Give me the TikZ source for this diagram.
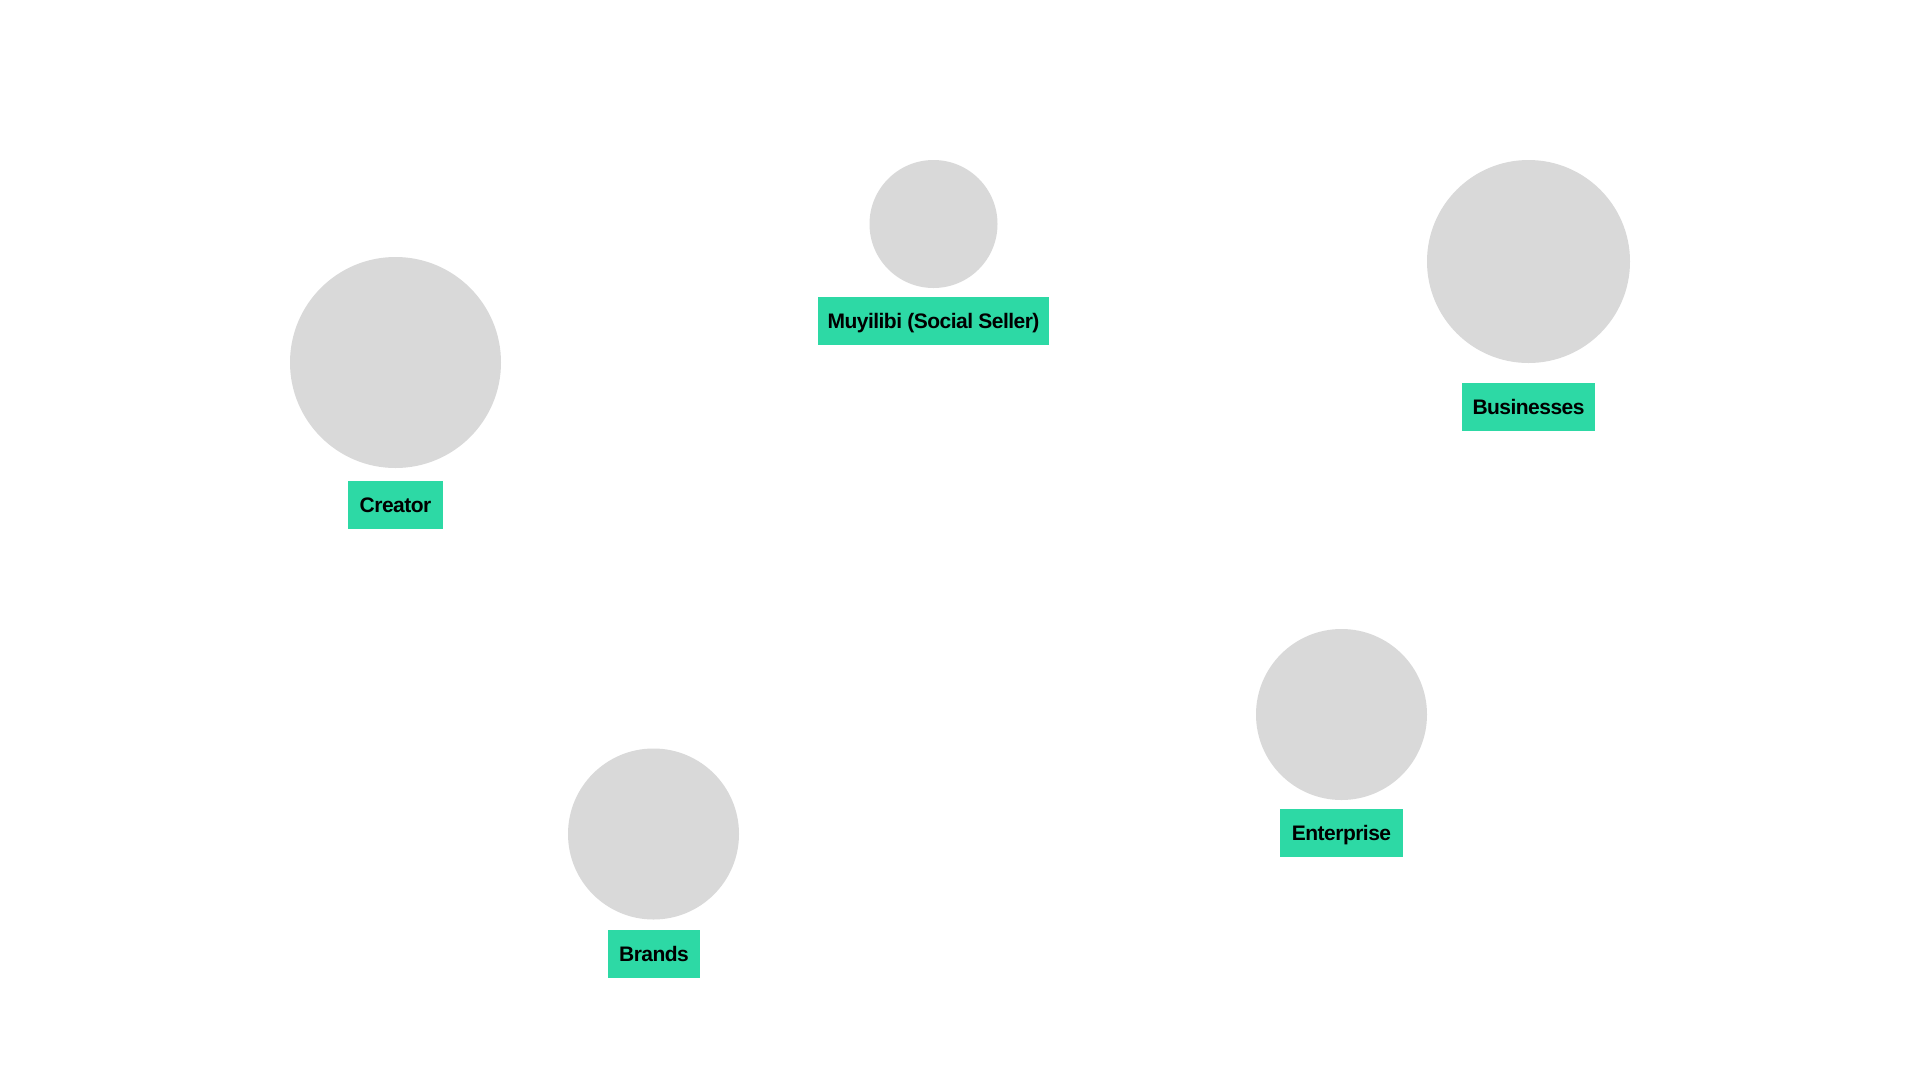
\documentclass[tikz,border=0pt]{standalone}
\usepackage{fontspec}
\setmainfont{Liberation Sans}[LetterSpace=-2.5]
\definecolor{bubble}{HTML}{D9D9D9}
\definecolor{tag}{HTML}{2DD9A5}
\begin{document}
\begin{tikzpicture}[x=1pt,y=-1pt,
  bubble/.style={circle,fill=bubble,draw=none,inner sep=0pt,minimum size=#1},
  tag/.style={rectangle,fill=tag,draw=none,inner xsep=0pt,inner ysep=0pt,text height=19pt,text depth=4pt,
    minimum height=48pt,minimum width=#1,
    font=\fontsize{21pt}{24pt}\selectfont\bfseries,text=black}]
\useasboundingbox[fill=white] (0,0) rectangle (1920,1080);
\node[bubble=211pt] (creator) at (395.5,362.5) {};
\node[tag=95pt] (creatorlbl) at (395.5,505) {Creator};
\node[bubble=128pt] (muy) at (933.5,224) {};
\node[tag=231pt] (muylbl) at (933.5,321) {Muyilibi (Social Seller)};
\node[bubble=203pt] (bus) at (1528.5,261.5) {};
\node[tag=133pt] (buslbl) at (1528.5,407) {Businesses};
\node[bubble=171pt] (ent) at (1341.5,714.5) {};
\node[tag=123pt] (entlbl) at (1341.5,833) {Enterprise};
\node[bubble=171pt] (brands) at (653.5,834) {};
\node[tag=92pt] (brandslbl) at (654,954) {Brands};
\end{tikzpicture}
\end{document}
